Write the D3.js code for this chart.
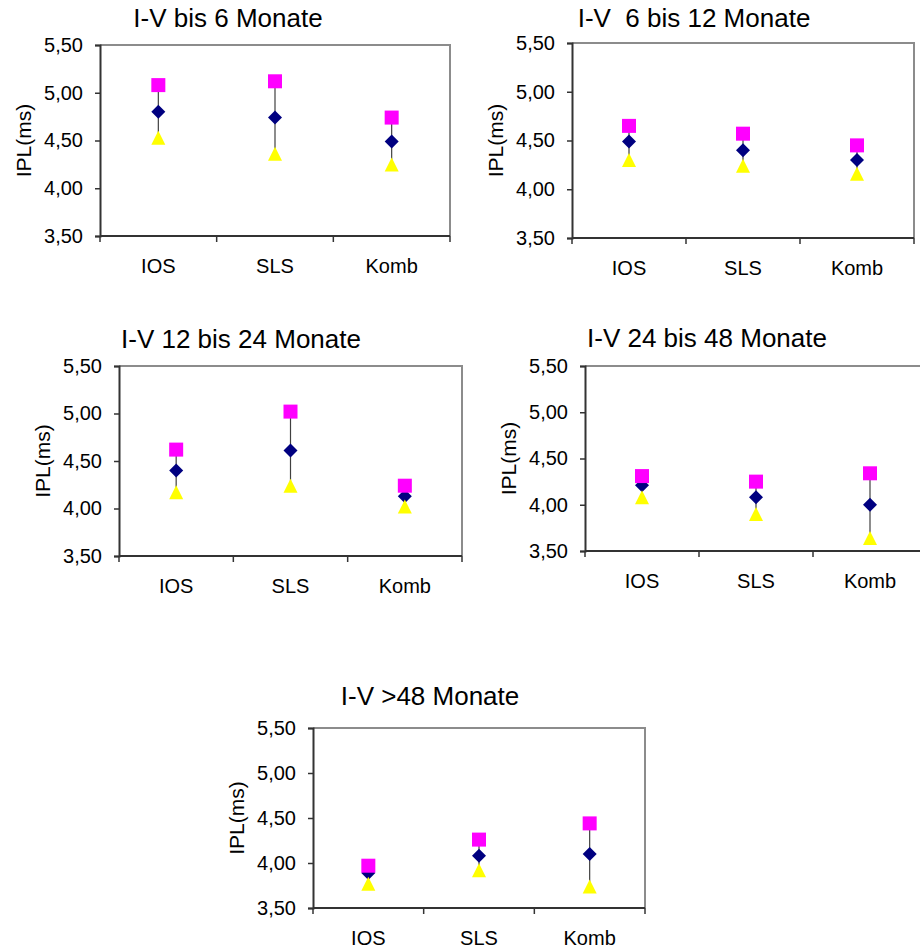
<!DOCTYPE html>
<html>
<head>
<meta charset="utf-8">
<script src="https://cdn.jsdelivr.net/npm/d3@7"></script>
<style>
  html, body { margin: 0; padding: 0; background: #fff; }
  svg { display: block; }
  text { font-family: "Liberation Sans", Arial, sans-serif; fill: #000; white-space: pre; }
</style>
</head>
<body>
<svg id="chart" width="920" height="949"></svg>
<script>
// ---- data ----
const categories = ["IOS", "SLS", "Komb"];
const titles = ["I-V bis 6 Monate", "I-V  6 bis 12 Monate", "I-V 12 bis 24 Monate", "I-V 24 bis 48 Monate", "I-V >48 Monate"];
const yTicks = [3.5, 4.0, 4.5, 5.0, 5.5];
const yLabel = "IPL(ms)";
// mean (diamond), upper (square), lower (triangle) per panel
const mean1 = [4.80, 4.74, 4.49];
const upper1 = [5.08, 5.12, 4.74];
const lower1 = [4.53, 4.36, 4.25];
const mean2 = [4.49, 4.40, 4.30];
const upper2 = [4.65, 4.57, 4.45];
const lower2 = [4.30, 4.24, 4.16];
const mean3 = [4.40, 4.61, 4.13];
const upper3 = [4.62, 5.02, 4.24];
const lower3 = [4.17, 4.24, 4.02];
const mean4 = [4.21, 4.08, 4.00];
const upper4 = [4.31, 4.25, 4.34];
const lower4 = [4.08, 3.90, 3.64];
const mean5 = [3.89, 4.08, 4.10];
const upper5 = [3.97, 4.26, 4.44];
const lower5 = [3.77, 3.92, 3.74];

const panelsData = [
  { title: titles[0], mean: mean1, upper: upper1, lower: lower1 },
  { title: titles[1], mean: mean2, upper: upper2, lower: lower2 },
  { title: titles[2], mean: mean3, upper: upper3, lower: lower3 },
  { title: titles[3], mean: mean4, upper: upper4, lower: lower4 },
  { title: titles[4], mean: mean5, upper: upper5, lower: lower5 }
];

// ---- layout (plot rectangles) ----
const layout = [
  { left: 100, right: 450, top: 45, bottom: 236, titleX: 228, titleY: 27 },
  { left: 572, right: 914, top: 43, bottom: 238, titleX: 694, titleY: 27 },
  { left: 119, right: 462, top: 366, bottom: 556, titleX: 241, titleY: 348 },
  { left: 585, right: 927, top: 366, bottom: 551, titleX: 707, titleY: 347 },
  { left: 313, right: 645, top: 728, bottom: 908, titleX: 430, titleY: 705 }
];

const svg = d3.select("#chart");
const fmt = v => d3.format(".2f")(v).replace(".", ",");

panelsData.forEach((pd, i) => {
  const L = layout[i];
  const g = svg.append("g");
  const x = d3.scaleBand().domain(categories).range([L.left, L.right]);
  const y = d3.scaleLinear().domain([3.5, 5.5]).range([L.bottom, L.top]);

  // title
  g.append("text")
    .attr("x", L.titleX).attr("y", L.titleY)
    .attr("text-anchor", "middle")
    .attr("xml:space", "preserve")
    .style("font-size", "26px")
    .text(pd.title);

  // frame top & right (gray)
  g.append("path")
    .attr("d", `M${L.left},${y(5.5)}H${L.right}V${y(3.5)}`)
    .attr("fill", "none").attr("stroke", "#8c8c8c").attr("stroke-width", 2);

  // y axis
  const yAxis = d3.axisLeft(y).tickValues(yTicks).tickFormat(fmt).tickSize(5).tickPadding(12);
  const ya = g.append("g").attr("transform", `translate(${L.left},0)`).call(yAxis);
  ya.select(".domain").attr("stroke", "#333").attr("stroke-width", 2);
  ya.selectAll(".tick line").attr("stroke", "#333").attr("stroke-width", 1.5);
  ya.selectAll(".tick text").style("font-size", "20px").attr("fill", "#000")
    .style("font-family", "'Liberation Sans', Arial, sans-serif");

  // x axis: ticks at band boundaries
  const xAxisG = g.append("g").attr("transform", `translate(0,${L.bottom})`);
  xAxisG.append("line")
    .attr("x1", L.left).attr("x2", L.right).attr("y1", 0).attr("y2", 0)
    .attr("stroke", "#333").attr("stroke-width", 2);
  const bounds = categories.map(c => x(c)).concat([x(categories[categories.length - 1]) + x.bandwidth()]);
  xAxisG.selectAll("line.tk").data(bounds).enter().append("line")
    .attr("class", "tk")
    .attr("x1", d => d).attr("x2", d => d).attr("y1", 0).attr("y2", 6)
    .attr("stroke", "#333").attr("stroke-width", 1.5);
  xAxisG.selectAll("text.cat").data(categories).enter().append("text")
    .attr("class", "cat")
    .attr("x", c => x(c) + x.bandwidth() / 2)
    .attr("y", 37)
    .attr("text-anchor", "middle")
    .style("font-size", "20px")
    .text(c => c);

  // y label
  const cy = (L.top + L.bottom) / 2;
  g.append("text")
    .attr("transform", `translate(${L.left - 69},${cy}) rotate(-90)`)
    .attr("text-anchor", "middle")
    .style("font-size", "21px")
    .text(yLabel);

  const cx = c => x(c) + x.bandwidth() / 2;

  // hi-lo lines
  g.selectAll("line.hl").data(categories).enter().append("line")
    .attr("x1", cx).attr("x2", cx)
    .attr("y1", (c, j) => y(pd.upper[j])).attr("y2", (c, j) => y(pd.lower[j]))
    .attr("stroke", "#404040").attr("stroke-width", 1.2);

  // mean diamonds
  g.selectAll("path.mean").data(categories).enter().append("path")
    .attr("d", (c, j) => {
      const px = cx(c), py = y(pd.mean[j]);
      return `M${px},${py - 7}L${px + 7},${py}L${px},${py + 7}L${px - 7},${py}Z`;
    })
    .attr("fill", "#000080");
  // upper squares
  g.selectAll("rect.up").data(categories).enter().append("rect")
    .attr("x", c => cx(c) - 7).attr("y", (c, j) => y(pd.upper[j]) - 7)
    .attr("width", 14).attr("height", 14)
    .attr("fill", "#ff00ff");
  // lower triangles
  g.selectAll("path.low").data(categories).enter().append("path")
    .attr("d", (c, j) => {
      const px = cx(c), py = y(pd.lower[j]);
      return `M${px},${py - 7}L${px + 7},${py + 7}L${px - 7},${py + 7}Z`;
    })
    .attr("fill", "#ffff00");
});
</script>
</body>
</html>
